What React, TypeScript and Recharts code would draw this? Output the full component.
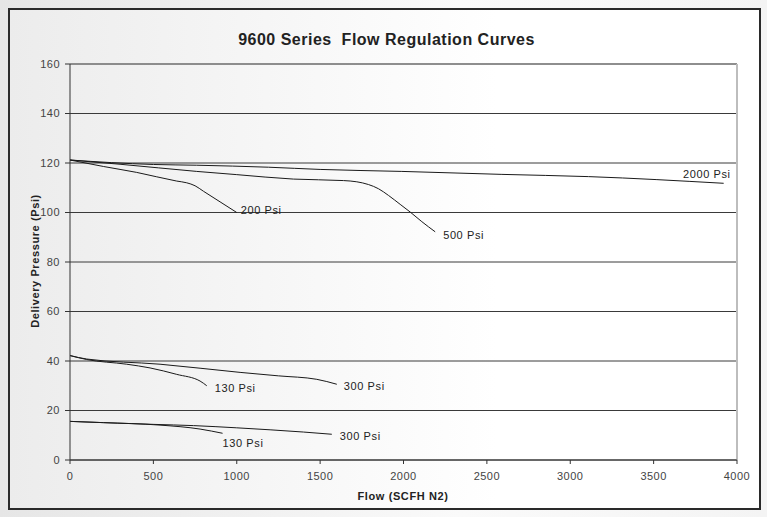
import React from "react";
import { LineChart, Line, XAxis, YAxis, CartesianGrid, ReferenceLine } from "recharts";

const xTicks = [0, 500, 1000, 1500, 2000, 2500, 3000, 3500, 4000];
const yTicks = [0, 20, 40, 60, 80, 100, 120, 140, 160];

const psi2000 = [
  { x: 0, y: 121.2 }, { x: 500, y: 119.4 }, { x: 760, y: 119.1 }, { x: 1190, y: 118.3 },
  { x: 1500, y: 117.4 }, { x: 1990, y: 116.6 }, { x: 2590, y: 115.4 }, { x: 3110, y: 114.5 },
  { x: 3920, y: 111.8 },
];
const psi500 = [
  { x: 0, y: 121.2 }, { x: 300, y: 119.5 }, { x: 760, y: 116.6 }, { x: 1000, y: 115.3 },
  { x: 1340, y: 113.5 }, { x: 1640, y: 112.9 }, { x: 1720, y: 112.4 }, { x: 1790, y: 111.3 },
  { x: 1850, y: 109.6 }, { x: 1910, y: 106.9 }, { x: 1980, y: 103.3 }, { x: 2040, y: 100.2 },
  { x: 2110, y: 96.3 }, { x: 2190, y: 92.2 },
];
const psi200 = [
  { x: 0, y: 121.2 }, { x: 200, y: 118.6 }, { x: 400, y: 116.2 }, { x: 640, y: 112.7 },
  { x: 700, y: 112.0 }, { x: 750, y: 110.8 }, { x: 800, y: 108.6 }, { x: 900, y: 104.3 },
  { x: 1000, y: 100.0 },
];
const upper130 = [
  { x: 0, y: 42.2 }, { x: 100, y: 40.6 }, { x: 340, y: 38.7 }, { x: 480, y: 37.2 },
  { x: 640, y: 34.6 }, { x: 780, y: 31.9 }, { x: 820, y: 30.0 },
];
const upper300 = [
  { x: 0, y: 42.2 }, { x: 100, y: 40.8 }, { x: 540, y: 38.7 }, { x: 1020, y: 35.4 },
  { x: 1250, y: 34.0 }, { x: 1480, y: 32.6 }, { x: 1600, y: 30.6 },
];
const lower130 = [
  { x: 0, y: 15.6 }, { x: 200, y: 15.1 }, { x: 540, y: 14.1 }, { x: 780, y: 12.5 },
  { x: 915, y: 10.8 },
];
const lower300 = [
  { x: 0, y: 15.6 }, { x: 200, y: 15.1 }, { x: 500, y: 14.4 }, { x: 740, y: 13.9 },
  { x: 1000, y: 13.0 }, { x: 1200, y: 12.2 }, { x: 1400, y: 11.3 }, { x: 1570, y: 10.4 },
];

const series = [
  { name: "2000 Psi", data: psi2000, dx: 7, dy: -5, anchor: "end" },
  { name: "500 Psi", data: psi500, dx: 8, dy: 7, anchor: "start" },
  { name: "200 Psi", data: psi200, dx: 4, dy: 1, anchor: "start" },
  { name: "130 Psi", data: upper130, dx: 8, dy: 6, anchor: "start" },
  { name: "300 Psi", data: upper300, dx: 7, dy: 6, anchor: "start" },
  { name: "130 Psi", data: lower130, dx: 0, dy: 14, anchor: "start" },
  { name: "300 Psi", data: lower300, dx: 8, dy: 6, anchor: "start" },
];

const FONT = "'Liberation Sans', Arial, sans-serif";

function makeLabel(s: any) {
  return (props: any) => {
    const { x, y, index } = props;
    if (index !== s.data.length - 1) return <g key={`e${index}`} />;
    return (
      <text
        key={`l${index}`}
        x={x + s.dx}
        y={y + s.dy}
        textAnchor={s.anchor}
        fontFamily={FONT}
        fontSize={11}
        letterSpacing={0.6}
        fill="#222"
      >
        {s.name}
      </text>
    );
  };
}

export default function App() {
  return (
    <div style={{ position: "absolute", left: 0, top: 0, width: 767, height: 517, background: "linear-gradient(to right, #e6e6e6, #fafafa 60%, #f4f4f4)" }}>
      <div
        style={{
          position: "absolute", left: 8, top: 8, width: 749, height: 498,
          border: "2px solid #2a2a2a",
          background: "linear-gradient(to right, #ececec 0%, #ffffff 65%, #ffffff 100%)",
        }}
      />
      <div style={{ position: "absolute", left: 0, top: 0 }}>
        <LineChart width={767} height={517} margin={{ top: 64, right: 30, bottom: 27, left: 30 }}>
          <CartesianGrid vertical={false} stroke="#3a3a3a" strokeWidth={1} />
          <ReferenceLine y={160} stroke="#8a8a8a" strokeWidth={1.5} />
          <ReferenceLine x={4000} stroke="#bdbdbd" strokeWidth={2} />
          <XAxis
            type="number"
            dataKey="x"
            domain={[0, 4000]}
            ticks={xTicks}
            allowDataOverflow
            height={30}
            stroke="#333"
            tickSize={4}
            tickMargin={8}
            tick={{ fontFamily: FONT, fontSize: 11, fill: "#444", letterSpacing: 0.5 }}
          />
          <YAxis
            type="number"
            dataKey="y"
            domain={[0, 160]}
            ticks={yTicks}
            width={40}
            stroke="#333"
            tickSize={5}
            tickMargin={5}
            tick={{ fontFamily: FONT, fontSize: 11, fill: "#444", letterSpacing: 0.5 }}
          />
          {series.map((s, i) => (
            <Line
              key={i}
              data={s.data}
              dataKey="y"
              type="monotone"
              stroke="#1a1a1a"
              strokeWidth={1}
              dot={false}
              activeDot={false}
              isAnimationActive={false}
              label={makeLabel(s)}
            />
          ))}
        </LineChart>
      </div>
      <div style={{ position: "absolute", left: 0, width: 767, top: 31, textAlign: "center", paddingLeft: 3, fontFamily: FONT, fontWeight: "bold", fontSize: 16, letterSpacing: 0.5, color: "#222" }}>
        9600 Series&nbsp;&nbsp;Flow Regulation Curves
      </div>
      <div style={{ position: "absolute", left: 303, width: 200, top: 490, textAlign: "center", fontFamily: FONT, fontWeight: "bold", fontSize: 11, letterSpacing: 0.6, color: "#222" }}>
        Flow (SCFH N2)
      </div>
      <div style={{ position: "absolute", left: 35, top: 262, width: 0, height: 0 }}>
        <div style={{ position: "absolute", left: -100, top: -7, width: 200, textAlign: "center", transform: "rotate(-90deg)", fontFamily: FONT, fontWeight: "bold", fontSize: 11, letterSpacing: 0.6, color: "#222", whiteSpace: "nowrap" }}>
          Delivery Pressure (Psi)
        </div>
      </div>
    </div>
  );
}
